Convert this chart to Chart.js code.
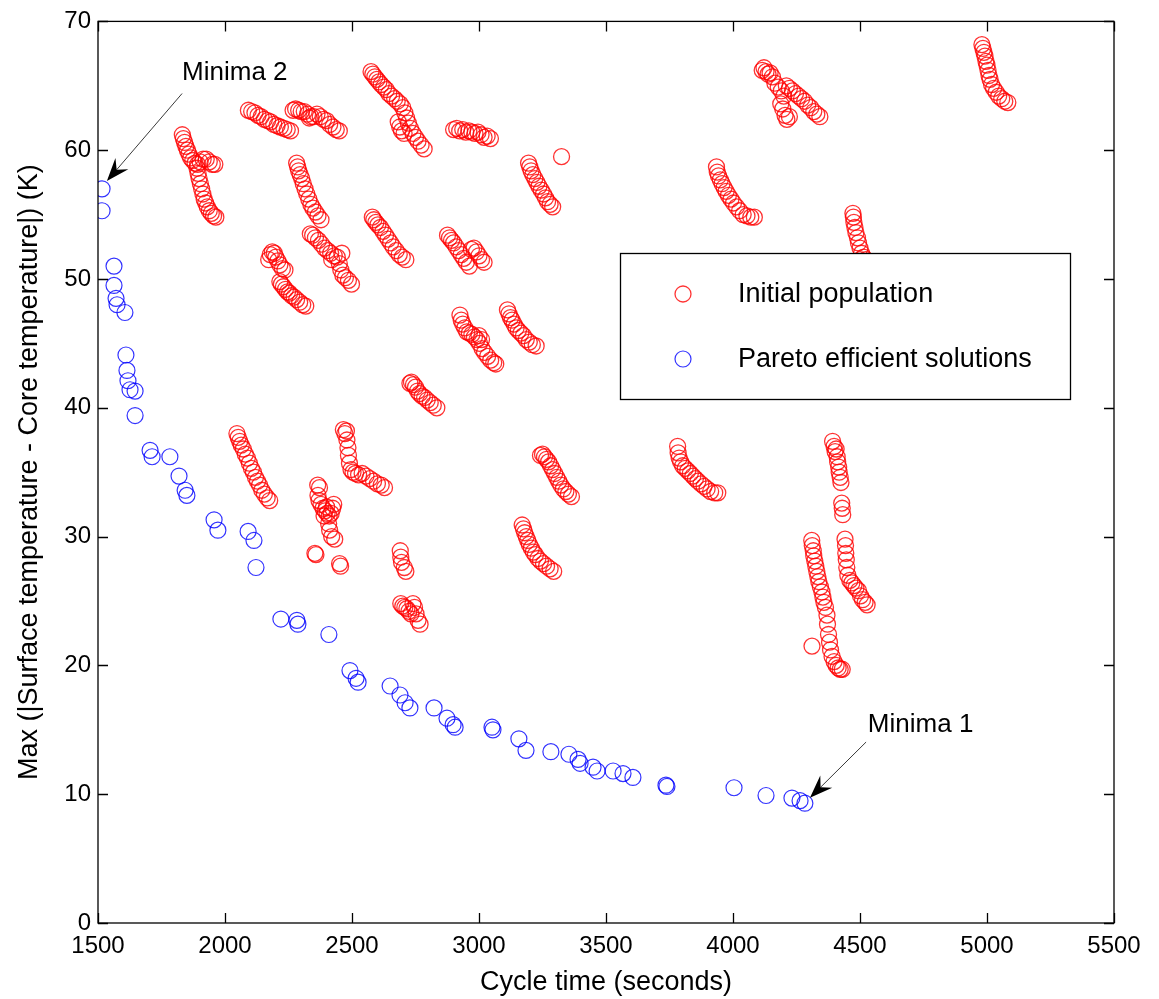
<!DOCTYPE html>
<html>
<head>
<meta charset="utf-8">
<script src="https://cdn.jsdelivr.net/npm/chart.js@4.4.1/dist/chart.umd.min.js"></script>
<style>
  html, body { margin: 0; padding: 0; background: #fff; }
</style>
</head>
<body>
<canvas id="paretoChart" width="1159" height="999"></canvas>
<script>
const xTicks = [1500, 2000, 2500, 3000, 3500, 4000, 4500, 5000, 5500];
const yTicks = [0, 10, 20, 30, 40, 50, 60, 70];

// [cycle time (s), max |surface - core| temperature (K)]
const initialPopulation = [
  [1832,61.2],[1836,60.9],[1841,60.6],[1846,60.3],[1852,60.0],[1858,59.7],[1865,59.4],[1873,59.2],[1882,59.0],[1892,58.9],
  [1902,59.1],[1914,59.3],[1926,59.3],[1938,59.1],[1950,58.9],[1960,58.9],
  [1890,58.6],[1894,58.2],[1898,57.8],[1903,57.4],[1908,57.0],[1913,56.6],[1918,56.2],[1924,55.9],[1930,55.6],[1938,55.3],
  [1946,55.1],[1955,54.9],[1964,54.8],
  [2092,63.1],[2105,63.0],[2118,62.9],[2130,62.7],[2142,62.6],[2155,62.4],[2168,62.3],[2180,62.2],[2192,62.0],[2205,61.9],
  [2218,61.8],[2232,61.7],[2245,61.6],[2258,61.5],
  [2268,63.1],[2278,63.2],[2290,63.1],[2300,63.0],[2312,63.0],[2325,62.8],[2332,62.5],[2338,62.6],[2350,62.6],[2362,62.8],
  [2375,62.6],[2388,62.4],[2400,62.3],[2412,62.0],[2425,61.8],[2438,61.6],[2450,61.5],
  [2282,59.0],[2286,58.7],[2290,58.4],[2296,58.1],[2302,57.8],[2308,57.4],[2315,57.0],[2322,56.6],[2330,56.2],[2338,55.8],
  [2346,55.5],[2356,55.2],[2366,54.9],[2378,54.6],
  [2336,53.5],[2345,53.4],[2356,53.2],[2368,53.0],[2380,52.7],[2392,52.4],[2404,52.2],[2416,52.0],[2420,51.5],[2430,51.8],
  [2442,51.7],[2460,52.0],[2450,51.2],[2456,50.7],[2464,50.3],[2474,50.1],[2486,49.9],[2498,49.6],
  [2172,51.5],[2178,51.9],[2186,52.1],[2194,52.0],[2200,51.7],[2208,51.4],[2216,51.1],[2226,50.8],[2236,50.7],
  [2216,49.8],[2222,49.6],[2230,49.4],[2238,49.2],[2246,49.0],[2254,48.9],[2262,48.7],[2272,48.6],[2282,48.4],[2294,48.2],
  [2306,48.0],[2318,47.9],
  [2575,66.1],[2582,65.9],[2590,65.7],[2598,65.5],[2606,65.3],[2615,65.1],[2625,64.9],[2635,64.7],[2645,64.4],[2656,64.2],
  [2668,64.0],[2678,63.8],[2690,63.6],[2700,63.3],[2708,62.9],[2715,62.5],[2722,62.1],[2730,61.7],[2740,61.3],[2750,61.0],
  [2760,60.7],[2772,60.4],[2784,60.1],[2682,62.2],[2688,61.8],[2695,61.5],[2705,61.3],
  [2900,61.6],[2912,61.7],[2924,61.5],[2936,61.6],[2948,61.4],[2960,61.5],[2972,61.4],[2984,61.3],[2996,61.4],[3008,61.2],
  [3020,61.0],[3032,61.1],[3045,60.9],
  [3325,59.5],
  [3195,59.0],[3200,58.7],[3205,58.4],[3212,58.1],[3220,57.8],[3228,57.5],[3236,57.2],[3245,56.9],[3254,56.6],[3262,56.3],
  [3270,56.0],[3280,55.8],[3290,55.6],
  [2580,54.8],[2586,54.6],[2594,54.4],[2602,54.2],[2612,54.0],[2622,53.7],[2632,53.4],[2642,53.1],[2652,52.8],[2662,52.5],
  [2674,52.2],[2686,51.9],[2698,51.7],[2712,51.5],
  [2876,53.4],[2884,53.2],[2892,53.0],[2900,52.8],[2910,52.5],[2920,52.2],[2930,51.9],[2940,51.6],[2950,51.3],[2962,51.0],
  [2970,52.3],[2980,52.4],[2990,52.1],[3000,51.8],[3010,51.5],[3020,51.3],
  [2925,47.2],[2930,46.8],[2936,46.5],[2944,46.2],[2952,45.9],[2962,45.8],[2972,45.7],[2982,45.5],[2992,45.3],[3000,45.6],
  [3002,45.0],[3010,45.3],[3012,44.6],[3022,44.3],[3034,44.0],[3046,43.7],[3058,43.5],[3066,43.4],
  [3112,47.6],[3118,47.3],[3124,47.0],[3130,46.8],[3138,46.5],[3146,46.2],[3155,46.0],[3165,45.8],[3175,45.6],[3186,45.3],
  [3198,45.1],[3210,44.9],[3225,44.8],
  [2728,41.9],[2734,42.0],[2742,41.8],[2750,41.6],[2758,41.3],[2766,41.1],[2776,40.9],[2786,40.8],[2796,40.6],[2808,40.4],
  [2820,40.2],[2834,40.0],
  [2047,38.0],[2052,37.7],[2058,37.4],[2064,37.1],[2072,36.8],[2080,36.4],[2088,36.1],[2096,35.7],[2104,35.3],[2112,35.0],
  [2120,34.6],[2128,34.3],[2136,34.0],[2145,33.6],[2155,33.3],[2166,33.0],[2176,32.8],
  [2466,38.3],[2472,38.0],[2478,38.2],[2480,37.5],[2484,36.9],[2486,36.3],[2490,35.7],[2496,35.2],[2504,35.0],[2514,34.9],
  [2526,34.8],[2540,34.9],[2555,34.7],[2570,34.5],[2585,34.3],[2600,34.1],[2615,34.0],[2628,33.8],
  [2365,34.0],[2372,33.8],[2366,33.2],[2370,32.8],[2378,32.5],[2386,32.2],[2390,31.6],[2394,32.0],[2400,32.3],[2402,31.8],
  [2410,31.6],[2418,31.8],[2424,32.2],[2428,32.5],[2408,31.0],[2412,30.5],[2420,30.0],[2432,29.8],
  [2354,28.7],[2358,28.6],[2451,27.9],[2455,27.7],
  [3242,36.3],[3250,36.4],[3258,36.2],[3266,36.0],[3274,35.8],[3282,35.5],[3290,35.2],[3298,34.9],[3306,34.6],[3314,34.3],
  [3322,34.0],[3332,33.7],[3342,33.5],[3352,33.3],[3364,33.1],
  [3170,30.9],[3175,30.6],[3180,30.3],[3186,30.0],[3192,29.7],[3198,29.4],[3206,29.1],[3214,28.8],[3222,28.6],[3232,28.3],
  [3242,28.1],[3254,27.9],[3266,27.7],[3280,27.5],[3294,27.3],
  [2690,28.9],[2692,28.4],[2695,28.0],[2706,27.6],[2712,27.3],
  [2692,24.8],[2700,24.6],[2708,24.5],[2716,24.4],[2724,24.2],[2732,24.0],[2740,24.8],[2746,24.5],[2752,24.0],[2760,23.5],
  [2768,23.2],
  [3782,37.0],[3784,36.5],[3788,36.1],[3794,35.8],[3802,35.5],[3812,35.3],[3822,35.1],[3832,34.9],[3842,34.7],[3852,34.5],
  [3862,34.3],[3874,34.1],[3886,33.9],[3898,33.7],[3912,33.5],[3928,33.4],[3940,33.4],
  [3935,58.7],[3938,58.3],[3943,58.0],[3950,57.7],[3957,57.4],[3965,57.1],[3973,56.8],[3982,56.5],[3992,56.2],[4002,55.9],
  [4014,55.6],[4026,55.3],[4040,55.0],[4055,54.9],[4070,54.8],[4084,54.8],
  [4115,66.2],[4122,66.4],[4130,66.1],[4138,65.9],[4146,66.0],[4155,65.7],[4165,65.2],[4178,64.9],[4190,64.6],[4200,64.2],
  [4188,63.6],[4196,63.2],[4205,62.7],[4212,62.4],[4222,62.6],[4210,65.0],[4222,64.8],[4234,64.6],[4246,64.4],[4258,64.2],
  [4270,64.0],[4282,63.8],[4294,63.5],[4306,63.3],[4318,63.0],[4330,62.8],[4342,62.6],
  [4980,68.2],[4984,67.9],[4988,67.6],[4992,67.3],[4996,66.9],[5000,66.6],[5004,66.2],[5008,65.8],[5012,65.5],[5018,65.1],
  [5026,64.8],[5036,64.5],[5046,64.2],[5058,64.0],[5070,63.8],[5082,63.7],
  [4472,55.1],[4474,54.8],[4476,54.4],[4480,54.0],[4484,53.6],[4490,53.2],[4494,52.8],[4500,52.4],[4506,52.0],[4514,51.7],
  [4522,51.5],[4530,51.2],[4500,51.5],[4510,50.8],
  [4392,37.4],[4398,37.0],[4402,36.6],[4406,36.8],[4410,36.2],[4412,35.8],[4416,35.4],[4418,35.0],[4422,34.6],[4425,34.2],
  [4428,32.6],[4430,32.2],[4432,31.7],
  [4441,29.8],[4443,29.3],[4444,28.7],[4446,28.2],[4448,27.6],[4452,27.0],[4460,26.6],[4468,26.4],[4476,26.2],[4484,26.0],
  [4494,25.8],[4502,25.4],[4510,25.1],[4520,24.9],[4528,24.7],
  [4310,29.7],[4312,29.3],[4316,28.9],[4318,28.5],[4322,28.1],[4326,27.7],[4330,27.3],[4334,26.9],[4338,26.5],[4344,26.1],
  [4350,25.7],[4354,25.3],[4358,24.9],[4364,24.5],[4370,23.9],[4372,23.2],[4376,22.4],[4380,21.8],[4384,21.2],[4390,20.7],
  [4398,20.3],[4406,20.0],[4414,19.8],[4422,19.7],[4430,19.7],[4311,21.5]
];

const paretoSolutions = [
  [1516,57.0],[1516,55.3],[1563,51.0],[1563,49.5],[1571,48.5],[1575,48.0],[1606,47.4],[1610,44.1],[1614,42.9],[1618,42.1],
  [1626,41.4],[1646,41.3],[1646,39.4],[1705,36.7],[1713,36.2],[1783,36.2],[1819,34.7],[1843,33.6],[1850,33.2],[1957,31.3],
  [1972,30.5],[2091,30.4],[2114,29.7],[2122,27.6],[2220,23.6],[2283,23.5],[2287,23.2],[2409,22.4],[2492,19.6],[2516,19.0],
  [2524,18.7],[2650,18.4],[2689,17.7],[2709,17.1],[2728,16.7],[2823,16.7],[2874,15.9],[2898,15.4],[2906,15.2],[3051,15.2],
  [3055,15.0],[3157,14.3],[3185,13.4],[3283,13.3],[3354,13.1],[3390,12.7],[3398,12.4],[3449,12.1],[3465,11.8],[3528,11.8],
  [3567,11.6],[3606,11.3],[3736,10.7],[3740,10.6],[4004,10.5],[4130,9.9],[4232,9.7],[4264,9.5],[4283,9.3]
];

const FONT = '"Liberation Sans", Arial, sans-serif';

// text + arrow callouts, in data units
const callouts = [
  { text: 'Minima 2', at: [1831, 66.0], from: [1831, 64.4], to: [1535, 57.6] },
  { text: 'Minima 1', at: [4531, 15.4], from: [4524, 14.05], to: [4303, 9.72] }
];

function drawArrow(ctx, x1, y1, x2, y2) {
  const dx = x2 - x1, dy = y2 - y1;
  const len = Math.hypot(dx, dy);
  const ux = dx / len, uy = dy / len;
  const nx = -uy, ny = ux;
  const L = 23, W = 8.5, notch = 15;
  ctx.beginPath();
  ctx.moveTo(x1, y1);
  ctx.lineTo(x2 - ux * notch, y2 - uy * notch);
  ctx.strokeStyle = '#3a3a3a';
  ctx.lineWidth = 1;
  ctx.stroke();
  ctx.beginPath();
  ctx.moveTo(x2, y2);
  ctx.lineTo(x2 - ux * L + nx * W, y2 - uy * L + ny * W);
  ctx.lineTo(x2 - ux * notch, y2 - uy * notch);
  ctx.lineTo(x2 - ux * L - nx * W, y2 - uy * L - ny * W);
  ctx.closePath();
  ctx.fillStyle = '#000';
  ctx.fill();
}

const matlabAxes = {
  id: 'matlabAxes',
  afterDatasetsDraw(chart) {
    const ctx = chart.ctx;
    const { left, right, top, bottom } = chart.chartArea;
    const xs = chart.scales.x, ys = chart.scales.y;
    ctx.save();

    // box and inward ticks on all sides
    ctx.strokeStyle = '#000';
    ctx.lineWidth = 1.3;
    ctx.strokeRect(left, top, right - left, bottom - top);
    ctx.beginPath();
    xs.ticks.forEach(t => {
      const px = Math.round(xs.getPixelForValue(t.value)) + 0.5;
      ctx.moveTo(px, bottom); ctx.lineTo(px, bottom - 10);
      ctx.moveTo(px, top); ctx.lineTo(px, top + 10);
    });
    ys.ticks.forEach(t => {
      const py = Math.round(ys.getPixelForValue(t.value)) + 0.5;
      ctx.moveTo(left, py); ctx.lineTo(left + 10, py);
      ctx.moveTo(right, py); ctx.lineTo(right - 10, py);
    });
    ctx.stroke();

    // legend box
    const lx = 620, ly = 253, lw = 450, lh = 146;
    ctx.fillStyle = '#fff';
    ctx.fillRect(lx, ly, lw, lh);
    ctx.lineWidth = 1.3;
    ctx.strokeStyle = '#000';
    ctx.strokeRect(lx + 0.5, ly + 0.5, lw, lh);
    ctx.font = '27px ' + FONT;
    ctx.textBaseline = 'middle';
    ctx.textAlign = 'left';
    chart.data.datasets.forEach((ds, i) => {
      const y = 294 + i * 65;
      ctx.beginPath();
      ctx.arc(683, y, 8, 0, Math.PI * 2);
      ctx.strokeStyle = ds.borderColor;
      ctx.lineWidth = ds.borderWidth;
      ctx.stroke();
      ctx.fillStyle = '#000';
      ctx.fillText(ds.label, 738, y + 1);
    });

    // callouts
    callouts.forEach(c => {
      drawArrow(ctx,
        xs.getPixelForValue(c.from[0]), ys.getPixelForValue(c.from[1]),
        xs.getPixelForValue(c.to[0]), ys.getPixelForValue(c.to[1]));
      ctx.fillStyle = '#000';
      ctx.font = '26px ' + FONT;
      ctx.textAlign = 'left';
      ctx.textBaseline = 'middle';
      ctx.fillText(c.text, xs.getPixelForValue(c.at[0]), ys.getPixelForValue(c.at[1]));
    });
    ctx.restore();
  }
};

new Chart(document.getElementById('paretoChart'), {
  type: 'scatter',
  data: {
    datasets: [
      {
        label: 'Initial population',
        data: initialPopulation.map(p => ({ x: p[0], y: p[1] })),
        borderColor: 'rgba(255,0,0,0.8)',
        backgroundColor: 'rgba(0,0,0,0)',
        borderWidth: 1.3,
        pointRadius: 8
      },
      {
        label: 'Pareto efficient solutions',
        data: paretoSolutions.map(p => ({ x: p[0], y: p[1] })),
        borderColor: 'rgba(0,0,255,0.8)',
        backgroundColor: 'rgba(0,0,0,0)',
        borderWidth: 1.2,
        pointRadius: 8
      }
    ]
  },
  options: {
    responsive: false,
    animation: false,
    devicePixelRatio: 1,
    layout: { padding: { top: 16, right: 45, bottom: 0, left: 0 } },
    plugins: { legend: { display: false }, tooltip: { enabled: false } },
    scales: {
      x: {
        type: 'linear',
        min: 1500,
        max: 5500,
        grid: { display: false, drawTicks: false },
        border: { display: false },
        afterBuildTicks: s => { s.ticks = xTicks.map(v => ({ value: v })); },
        afterFit: s => { s.height = 76; },
        ticks: { color: '#000', font: { family: FONT, size: 24 }, padding: 9, maxRotation: 0, autoSkip: false, callback: v => String(v) },
        title: { display: true, text: 'Cycle time (seconds)', color: '#000', font: { family: FONT, size: 27 }, padding: { top: 0, bottom: 0 } }
      },
      y: {
        type: 'linear',
        min: 0,
        max: 70,
        grid: { display: false, drawTicks: false },
        border: { display: false },
        afterBuildTicks: s => { s.ticks = yTicks.map(v => ({ value: v })); },
        afterFit: s => { s.width = 98; },
        ticks: { color: '#000', font: { family: FONT, size: 24 }, padding: 7, autoSkip: false, callback: v => String(v) },
        title: { display: true, text: 'Max (|Surface temperature - Core temperature|) (K)', color: '#000', font: { family: FONT, size: 27 }, padding: { top: 13, bottom: 0 } }
      }
    }
  },
  plugins: [matlabAxes]
});
</script>
</body>
</html>
